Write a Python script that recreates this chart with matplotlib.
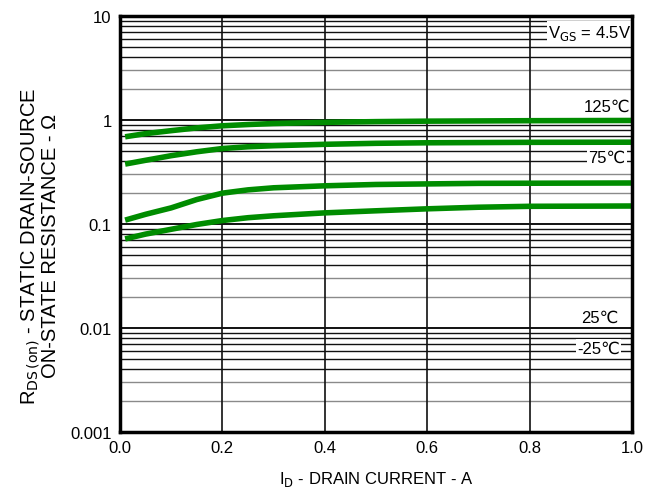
import numpy as np
import matplotlib
matplotlib.use('Agg')
from matplotlib import pyplot as plt

plt.rcParams['font.family'] = ['Liberation Sans', 'DejaVu Sans']

# drain current (A) and Rds(on) (ohm)
x_125 = [0.01, 0.05, 0.1, 0.15, 0.2, 0.25, 0.3, 0.4, 0.5, 0.6, 0.8, 1.0]
r_125 = [0.69, 0.74, 0.79, 0.84, 0.88, 0.905, 0.925, 0.95, 0.965, 0.975, 0.985, 0.99]
x_75 = [0.01, 0.05, 0.1, 0.15, 0.2, 0.25, 0.3, 0.4, 0.5, 0.6, 0.8, 1.0]
r_75 = [0.377, 0.41, 0.454, 0.495, 0.532, 0.553, 0.566, 0.584, 0.597, 0.604, 0.61, 0.612]
x_25 = [0.01, 0.05, 0.1, 0.15, 0.2, 0.25, 0.3, 0.4, 0.5, 0.7, 1.0]
r_25 = [0.109, 0.124, 0.143, 0.172, 0.198, 0.213, 0.223, 0.233, 0.240, 0.246, 0.248]
x_m25 = [0.01, 0.05, 0.1, 0.15, 0.2, 0.25, 0.3, 0.4, 0.5, 0.6, 0.7, 0.8, 1.0]
r_m25 = [0.0719, 0.08, 0.089, 0.099, 0.108, 0.115, 0.12, 0.128, 0.134, 0.14, 0.145,
         0.148, 0.149]

x_ticks = [0.0, 0.2, 0.4, 0.6, 0.8, 1.0]
x_labels = ['0.0', '0.2', '0.4', '0.6', '0.8', '1.0']
y_ticks = [0.001, 0.01, 0.1, 1, 10]
y_labels = ['0.001', '0.01', '0.1', '1', '10']

green = '#008c00'

fig = plt.figure(figsize=(6.58, 4.89), dpi=100)
ax = fig.add_axes([0.1824, 0.1145, 0.7781, 0.8507])
ax.set_yscale('log')
ax.set_xlim(0, 1.0)
ax.set_ylim(0.001, 10)

# grid: horizontal lines at every 1..9 of each decade, vertical at 0.2 steps
for dec in [0.001, 0.01, 0.1, 1]:
    for m in range(2, 10):
        c = '#8a8a8a' if m in (2, 3) else '#111111'
        ax.axhline(dec * m, color=c, lw=1.0, zorder=1)
for xv in [0.2, 0.4, 0.6, 0.8]:
    ax.axvline(xv, color='#111111', lw=1.2, zorder=1)
for yv in [0.01, 0.1, 1]:
    ax.axhline(yv, color='#111111', lw=1.4, zorder=1)

for xs, rs in [(x_125, r_125), (x_75, r_75), (x_25, r_25), (x_m25, r_m25)]:
    ax.plot(xs, rs, color=green, lw=4.0, solid_capstyle='butt',
            solid_joinstyle='round', zorder=3)

box = dict(facecolor='white', edgecolor='none', pad=1.0)
ax.text(0.918, 7.0, 'V$_{\\mathrm{GS}}$ = 4.5V', ha='center', va='center',
        fontsize=12, bbox=box, zorder=4)
ax.text(0.951, 1.36, '125\u2103', ha='center', va='center', fontsize=12, zorder=4)
ax.text(0.951, 0.441, '75\u2103', ha='center', va='center', fontsize=12,
        bbox=box, zorder=4)
ax.text(0.9375, 0.0128, '25\u2103', ha='center', va='center', fontsize=12, zorder=4)
ax.text(0.934, 0.00643, '-25\u2103', ha='center', va='center', fontsize=12,
        bbox=box, zorder=4)

ax.set_xticks(x_ticks)
ax.set_xticklabels(x_labels, fontsize=12)
ax.set_yticks(y_ticks)
ax.set_yticklabels(y_labels, fontsize=12)
ax.minorticks_off()
ax.yaxis.set_minor_locator(matplotlib.ticker.NullLocator())
ax.tick_params(length=0, pad=6)
for s in ax.spines.values():
    s.set_linewidth(2.5)
    s.set_zorder(5)

ax.set_xlabel('I$_{\\mathrm{D}}$ - DRAIN CURRENT - A', fontsize=12, labelpad=10)
ax.set_ylabel('R$_{\\mathrm{DS\\,(on)}}$ - STATIC DRAIN-SOURCE\nON-STATE RESISTANCE - \u03a9',
              fontsize=14.5, linespacing=0.95)
ax.yaxis.set_label_coords(-0.117, 0.45)

plt.savefig('out.png', dpi=100)
